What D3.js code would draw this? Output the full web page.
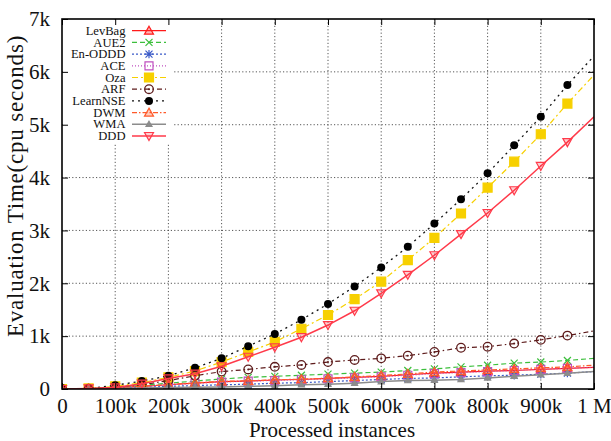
<!DOCTYPE html>
<html>
<head>
<meta charset="utf-8">
<script src="https://cdn.jsdelivr.net/npm/d3@7"></script>
<style>
  html, body { margin: 0; padding: 0; background: #fff; }
  svg { display: block; }
</style>
</head>
<body>
<svg id="chart" width="611" height="441"></svg>
<script>
// Processed instances (x) and evaluation time in cpu seconds (y) per method
const instances = [0, 50000, 100000, 150000, 200000, 250000, 300000, 350000, 400000, 450000,
  500000, 550000, 600000, 650000, 700000, 750000, 800000, 850000, 900000, 950000, 1000000];

const levBag   = [0, 4, 20, 50, 80, 110, 140, 150, 170, 180, 200, 220, 240, 270, 300, 320, 340, 350, 370, 390, 410];
const aue2     = [0, 5, 30, 70, 110, 150, 190, 220, 240, 260, 280, 300, 320, 350, 380, 420, 450, 490, 510, 540, 580];
const enODDD   = [0, 3, 15, 30, 50, 65, 80, 90, 110, 120, 140, 160, 180, 200, 210, 230, 250, 260, 280, 300, 330];
const ace      = [0, 4, 20, 50, 80, 105, 130, 150, 160, 175, 190, 210, 230, 260, 290, 310, 330, 350, 370, 390, 410];
const oza      = [0, 10, 50, 120, 220, 340, 510, 700, 890, 1140, 1400, 1700, 2030, 2440, 2860, 3320, 3810, 4300, 4820, 5400, 5940];
const arf      = [0, 5, 30, 80, 160, 250, 330, 370, 420, 455, 510, 550, 580, 630, 700, 780, 800, 860, 930, 1010, 1100];
const learnNSE = [0, 10, 70, 150, 250, 400, 580, 810, 1040, 1310, 1610, 1940, 2300, 2690, 3130, 3590, 4080, 4610, 5150, 5750, 6300];
const dwm      = [0, 4, 20, 50, 85, 115, 145, 155, 175, 185, 205, 230, 255, 285, 320, 340, 360, 380, 400, 420, 450];
const wma      = [0, 2, 10, 20, 30, 35, 40, 50, 60, 80, 90, 110, 140, 160, 165, 180, 210, 240, 270, 300, 330];
const ddd      = [0, 10, 30, 100, 200, 290, 430, 610, 790, 980, 1210, 1480, 1810, 2160, 2530, 2930, 3330, 3760, 4220, 4670, 5150];

const xTicks = [0, 100000, 200000, 300000, 400000, 500000, 600000, 700000, 800000, 900000, 1000000];
const xTickLabels = ["0", "100k", "200k", "300k", "400k", "500k", "600k", "700k", "800k", "900k", "1 M"];
const yTicks = [0, 1000, 2000, 3000, 4000, 5000, 6000, 7000];
const yTickLabels = ["0", "1k", "2k", "3k", "4k", "5k", "6k", "7k"];

const series = [
  { name: "LevBag",   values: levBag,   color: "#ff1a1a", dash: null,            width: 1.2, marker: "triUp",   fill: "rgba(255,40,40,0.35)" },
  { name: "AUE2",     values: aue2,     color: "#3cbf3c", dash: "5,3",           width: 1.2, marker: "cross",   fill: "none" },
  { name: "En-ODDD",  values: enODDD,   color: "#3a5ac8", dash: "2,2",           width: 1.2, marker: "star",    fill: "none" },
  { name: "ACE",      values: ace,      color: "#c050c0", dash: "1,2",           width: 1.2, marker: "square",  fill: "none" },
  { name: "Oza",      values: oza,      color: "#f7d000", dash: "6,3,2,3",       width: 1.2, marker: "squareF", fill: "#f7d000" },
  { name: "ARF",      values: arf,      color: "#5e1c1c", dash: "5,3,1.5,3",     width: 1.2, marker: "circleO", fill: "none" },
  { name: "LearnNSE", values: learnNSE, color: "#111111", dash: "2,4",           width: 1.3, marker: "circleF", fill: "#000" },
  { name: "DWM",      values: dwm,      color: "#ff5a2a", dash: "5,2,1.5,2",     width: 1.2, marker: "triUp",   fill: "rgba(255,90,40,0.3)" },
  { name: "WMA",      values: wma,      color: "#8c8c8c", dash: null,            width: 1.5, marker: "triSm",   fill: "#8c8c8c" },
  { name: "DDD",      values: ddd,      color: "#ff3a4a", dash: null,            width: 1.5, marker: "triDown", fill: "rgba(255,60,70,0.25)" }
];

const svg = d3.select("#chart");
const serif = "'Liberation Serif', 'Times New Roman', serif";

const plot = { left: 62, right: 594, top: 19, bottom: 389 };
const x = d3.scaleLinear().domain([0, 1000000]).range([plot.left, plot.right]);
const y = d3.scaleLinear().domain([0, 7000]).range([plot.bottom, plot.top]);

// Dotted grid
const grid = svg.append("g").attr("stroke", "#444").attr("stroke-width", 0.9).attr("stroke-dasharray", "1.2,2.2");
grid.selectAll("line.v").data(xTicks.slice(1, -1)).join("line")
  .attr("x1", d => x(d)).attr("x2", d => x(d)).attr("y1", plot.top).attr("y2", plot.bottom);
grid.selectAll("line.h").data(yTicks.slice(1, -1)).join("line")
  .attr("x1", plot.left).attr("x2", plot.right).attr("y1", d => y(d)).attr("y2", d => y(d));

// Series lines
const line = d3.line().x((d, i) => x(instances[i])).y(d => y(d));
svg.append("clipPath").attr("id", "plotClip").append("rect")
  .attr("x", plot.left).attr("y", plot.top).attr("width", plot.right - plot.left).attr("height", plot.bottom - plot.top);

function drawMarker(g, type, cx, cy, s) {
  if (type === "circleF") {
    g.append("circle").attr("cx", cx).attr("cy", cy).attr("r", 4).attr("fill", s.fill);
    return;
  }
  if (type === "circleO") {
    g.append("circle").attr("cx", cx).attr("cy", cy).attr("r", 4.3)
      .attr("fill", "none").attr("stroke", s.color).attr("stroke-width", 1.3);
    g.append("circle").attr("cx", cx).attr("cy", cy).attr("r", 1).attr("fill", s.color);
    return;
  }
  let p = "";
  if (type === "triUp") {
    p = `M${cx},${cy - 4.5}L${cx + 4.5},${cy + 3.5}L${cx - 4.5},${cy + 3.5}Z`;
  } else if (type === "triDown") {
    p = `M${cx},${cy + 4.5}L${cx + 4.5},${cy - 3.5}L${cx - 4.5},${cy - 3.5}Z`;
  } else if (type === "triSm") {
    p = `M${cx},${cy - 3}L${cx + 3},${cy + 2.2}L${cx - 3},${cy + 2.2}Z`;
  } else if (type === "cross") {
    p = `M${cx - 3.5},${cy - 3.5}L${cx + 3.5},${cy + 3.5}M${cx - 3.5},${cy + 3.5}L${cx + 3.5},${cy - 3.5}`;
  } else if (type === "star") {
    p = `M${cx - 3.5},${cy - 3.5}L${cx + 3.5},${cy + 3.5}M${cx - 3.5},${cy + 3.5}L${cx + 3.5},${cy - 3.5}` +
        `M${cx - 4.2},${cy}L${cx + 4.2},${cy}M${cx},${cy - 4.2}L${cx},${cy + 4.2}`;
  } else if (type === "square" || type === "squareF") {
    const h = type === "squareF" ? 4.5 : 4;
    p = `M${cx - h},${cy - h}H${cx + h}V${cy + h}H${cx - h}Z`;
  }
  g.append("path").attr("d", p).attr("stroke", s.color).attr("stroke-width", 1.2)
    .attr("fill", (type === "cross" || type === "star") ? "none" : s.fill);
}

const marks = svg.append("g").attr("clip-path", "url(#plotClip)");
series.forEach(s => {
  const g = marks.append("g");
  g.append("path").datum(s.values)
    .attr("d", line)
    .attr("fill", "none")
    .attr("stroke", s.color)
    .attr("stroke-width", s.width)
    .attr("stroke-dasharray", s.dash);
  s.values.forEach((v, i) => {
    if (instances[i] < 1000000) drawMarker(g, s.marker, x(instances[i]), y(v), s);
  });
});

// Legend with opaque background
const legend = svg.append("g");
legend.append("rect").attr("x", plot.left + 1).attr("y", plot.top + 1)
  .attr("width", 110).attr("height", 123).attr("fill", "#fff");
series.forEach((s, i) => {
  const ly = 30.7 + i * 11.7;
  legend.append("text").attr("x", 125.5).attr("y", ly).attr("dy", "0.33em")
    .attr("text-anchor", "end").attr("font-family", serif).attr("font-size", 12.6)
    .attr("fill", "#111").text(s.name);
  legend.append("line").attr("x1", 132).attr("x2", 166).attr("y1", ly).attr("y2", ly)
    .attr("stroke", s.color).attr("stroke-width", s.width).attr("stroke-dasharray", s.dash);
  drawMarker(legend, s.marker, 149, ly, s);
});

// Axes with inward ticks on all four sides
const axisStyle = g => {
  g.select(".domain").remove();
  g.selectAll(".tick line").attr("stroke", "#000").attr("stroke-width", 1);
  g.selectAll(".tick text").attr("font-family", serif).attr("font-size", 21).attr("fill", "#111");
};
svg.append("g").attr("transform", `translate(0,${plot.bottom})`)
  .call(d3.axisBottom(x).tickValues(xTicks).tickSizeInner(-6).tickPadding(9)
    .tickFormat((d, i) => xTickLabels[i]))
  .call(axisStyle);
svg.append("g").attr("transform", `translate(0,${plot.top})`)
  .call(d3.axisTop(x).tickValues(xTicks).tickSizeInner(-6).tickFormat(""))
  .call(axisStyle);
svg.append("g").attr("transform", `translate(${plot.left},0)`)
  .call(d3.axisLeft(y).tickValues(yTicks).tickSizeInner(-6).tickPadding(12)
    .tickFormat((d, i) => yTickLabels[i]))
  .call(axisStyle);
svg.append("g").attr("transform", `translate(${plot.right},0)`)
  .call(d3.axisRight(y).tickValues(yTicks).tickSizeInner(-6).tickFormat(""))
  .call(axisStyle);

// Frame
svg.append("rect").attr("x", plot.left).attr("y", plot.top)
  .attr("width", plot.right - plot.left).attr("height", plot.bottom - plot.top)
  .attr("fill", "none").attr("stroke", "#000").attr("stroke-width", 1.6);

// Axis titles
svg.append("text").attr("x", 332).attr("y", 437).attr("text-anchor", "middle")
  .attr("font-family", serif).attr("font-size", 21).attr("fill", "#111")
  .text("Processed instances");
svg.append("text").attr("transform", "translate(23,186) rotate(-90)").attr("text-anchor", "middle")
  .attr("font-family", serif).attr("font-size", 23).attr("letter-spacing", 0.8).attr("fill", "#111")
  .text("Evaluation Time(cpu seconds)");
</script>
</body>
</html>
